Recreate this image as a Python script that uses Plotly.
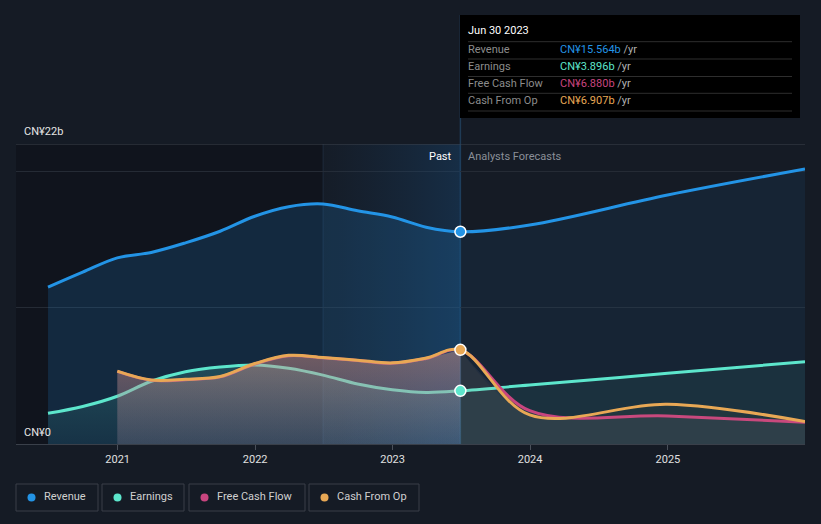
import plotly.graph_objects as go

# ---------------- data (CN¥ billions) ----------------
past_dates = ["2020-06-30", "2020-09-30", "2020-12-31", "2021-03-31", "2021-06-30",
              "2021-09-30", "2021-12-31", "2022-03-31", "2022-06-30", "2022-09-30",
              "2022-12-31", "2023-03-31", "2023-06-30"]
revenue_past = [11.5, 12.6, 13.65, 14.05, 14.75, 15.6, 16.7, 17.4, 17.6, 17.1, 16.65, 15.9, 15.564]
earnings_past = [2.25, 2.75, 3.5, 4.6, 5.3, 5.65, 5.8, 5.55, 5.05, 4.4, 3.98, 3.78, 3.896]

cf_dates = ["2020-12-31", "2021-03-31", "2021-06-30", "2021-09-30", "2021-12-31",
            "2022-03-31", "2022-06-30", "2022-09-30", "2022-12-31", "2023-03-31", "2023-06-30"]
cfo_past = [5.35, 4.7, 4.75, 4.95, 5.9, 6.5, 6.35, 6.15, 5.95, 6.3, 6.907]
fcf_past = [5.32, 4.67, 4.72, 4.92, 5.87, 6.47, 6.32, 6.12, 5.92, 6.27, 6.880]

fc_dates = ["2023-06-30", "2023-12-31", "2024-12-31", "2025-12-31"]
revenue_fc = [15.564, 16.06, 18.26, 20.17]
earnings_fc = [3.896, 4.33, 5.18, 6.04]
fcf_fc = [6.880, 2.44, 2.05, 1.6]
cfo_fc = [6.907, 2.13, 2.91, 1.65]

year_ticks = ["2021-01-01", "2022-01-01", "2023-01-01", "2024-01-01", "2025-01-01"]
year_labels = ["2021", "2022", "2023", "2024", "2025"]

names = ["Revenue", "Earnings", "Free Cash Flow", "Cash From Op"]
colors = ["#2394e6", "#5de6cc", "#c8457f", "#e8a855"]

# ---------------- layout helpers ----------------
W, H = 821, 524
L, R, T, B = 16, 16, 144, 80
PW, PH = W - L - R, H - T - B


def px(x):
    return (x - L) / PW


def py(y):
    return (H - B - y) / PH


BG = "#151b25"
fig = go.Figure()

# past highlight gradient band (Jun 2022 -> Jun 2023)
fig.add_trace(go.Scatter(
    x=["2022-06-30", "2023-06-30"], y=[22, 22], mode="lines", line=dict(width=0),
    fill="tozeroy", fillgradient=dict(type="horizontal",
                                      colorscale=[[0, "rgba(25,70,115,0.03)"], [1, "rgba(25,85,140,0.32)"]]),
    hoverinfo="skip", showlegend=False))


def area(x, y, fillspec):
    kw = dict(x=x, y=y, mode="lines", hoverinfo="skip", showlegend=False, fill="tozeroy")
    if isinstance(fillspec, str):
        kw["fillcolor"] = fillspec
    else:
        kw["fillgradient"] = dict(type="vertical", colorscale=fillspec)
    kw["line"] = dict(width=0, color="rgba(0,0,0,0)", shape="spline")
    fig.add_trace(go.Scatter(**kw))


def line(x, y, color):
    fig.add_trace(go.Scatter(x=x, y=y, mode="lines", line=dict(color=color, width=3, shape="spline"),
                             hoverinfo="skip", showlegend=False))


# Revenue
area(past_dates, revenue_past, "rgba(35,148,230,0.17)")
area(fc_dates, revenue_fc, "rgba(35,148,230,0.08)")
line(past_dates + fc_dates[1:], revenue_past + revenue_fc[1:], colors[0])

# Earnings
area(past_dates, earnings_past, [[0, "rgba(94,230,204,0.05)"], [1, "rgba(94,230,204,0.18)"]])
area(fc_dates, earnings_fc, "rgba(94,230,204,0.07)")
line(past_dates + fc_dates[1:], earnings_past + earnings_fc[1:], colors[1])

# Free cash flow
area(cf_dates, fcf_past, [[0, "rgba(200,69,127,0.05)"], [1, "rgba(200,69,127,0.18)"]])
area(fc_dates, fcf_fc, "rgba(170,170,190,0.09)")
line(cf_dates + fc_dates[1:], fcf_past + fcf_fc[1:], colors[2])

# Cash from operations
area(cf_dates, cfo_past, [[0, "rgba(150,150,165,0.22)"], [1, "rgba(220,170,140,0.38)"]])
area(fc_dates, cfo_fc, "rgba(232,168,85,0.04)")
line(cf_dates + fc_dates[1:], cfo_past + cfo_fc[1:], colors[3])

# markers at the last reported point
last_vals = [revenue_past[-1], earnings_past[-1], fcf_past[-1], cfo_past[-1]]
for i in [0, 1, 3]:
    fig.add_trace(go.Scatter(x=[past_dates[-1]], y=[last_vals[i]], mode="markers",
                             marker=dict(size=11, color=colors[i], line=dict(color="white", width=1.5)),
                             hoverinfo="skip", showlegend=False))

shapes = []
# darker region before Jun 2022
shapes.append(dict(type="rect", xref="x", yref="y", x0="2020-01-01", x1="2022-06-30", y0=0, y1=22,
                   fillcolor="rgba(5,5,10,0.28)", line_width=0, layer="below"))
# top boundary line
shapes.append(dict(type="line", xref="paper", yref="y", x0=0, x1=1, y0=22, y1=22,
                   line=dict(color="#3c424c", width=1)))
# vertical lines
shapes.append(dict(type="line", xref="x", yref="paper", x0="2022-06-30", x1="2022-06-30", y0=0, y1=1,
                   line=dict(color="rgba(60,90,120,0.35)", width=1), layer="below"))
shapes.append(dict(type="line", xref="x", yref="paper", x0="2023-06-30", x1="2023-06-30", y0=0, y1=py(15),
                   line=dict(color="#1f3b55", width=1.5), layer="below"))
# tooltip box
shapes.append(dict(type="rect", xref="paper", yref="paper", x0=px(460), x1=px(800), y0=py(118), y1=py(15),
                   fillcolor="#000000", line_width=0))
for yy in [41.7, 59, 76.5, 93.3, 111]:
    shapes.append(dict(type="line", xref="paper", yref="paper", x0=px(468), x1=px(792), y0=py(yy), y1=py(yy),
                       line=dict(color="#2e2e2e", width=1)))

annotations = []
FONT = "Roboto, 'Open Sans', sans-serif"
annotations.append(dict(xref="paper", yref="paper", x=px(466), y=py(31), text="Jun 30 2023", showarrow=False,
                        xanchor="left", yanchor="middle", font=dict(family=FONT, size=11, color="#ffffff")))
row_y = [49.3, 66, 83.7, 100.7]
for i in range(4):
    annotations.append(dict(xref="paper", yref="paper", x=px(466), y=py(row_y[i]), text=names[i],
                            showarrow=False, xanchor="left", yanchor="middle",
                            font=dict(family=FONT, size=11, color="#8c8c8c")))
    annotations.append(dict(xref="paper", yref="paper", x=px(558), y=py(row_y[i]),
                            text=f"<span style='color:{colors[i]}'>CN¥{last_vals[i]:.3f}b</span> /yr",
                            showarrow=False, xanchor="left", yanchor="middle",
                            font=dict(family=FONT, size=11, color="#b0b0b0")))

annotations.append(dict(xref="paper", yref="paper", x=px(22), y=py(131), text="CN¥22b", showarrow=False,
                        xanchor="left", yanchor="middle", font=dict(family=FONT, size=11, color="#e6e6e6")))
annotations.append(dict(xref="paper", yref="paper", x=px(22), y=py(432), text="CN¥0", showarrow=False,
                        xanchor="left", yanchor="middle", font=dict(family=FONT, size=11, color="#e6e6e6")))
annotations.append(dict(xref="paper", yref="paper", x=px(454), y=py(156), text="Past", showarrow=False,
                        xanchor="right", yanchor="middle", font=dict(family=FONT, size=11, color="#ffffff")))
annotations.append(dict(xref="paper", yref="paper", x=px(466), y=py(156), text="Analysts Forecasts",
                        showarrow=False, xanchor="left", yanchor="middle",
                        font=dict(family=FONT, size=11, color="#8a8f98")))

# custom legend
boxes = [(16, 98), (102, 184), (189, 305), (309, 419)]
for i, (x0, x1) in enumerate(boxes):
    shapes.append(dict(type="rect", xref="paper", yref="paper", x0=px(x0), x1=px(x1), y0=py(511), y1=py(484),
                       line=dict(color="#3a3f49", width=1), fillcolor="rgba(0,0,0,0)"))
    cx = x0 + 15.5
    shapes.append(dict(type="circle", xref="paper", yref="paper", x0=px(cx - 4), x1=px(cx + 4),
                       y0=py(501.5), y1=py(493.5), fillcolor=colors[i], line_width=0))
    annotations.append(dict(xref="paper", yref="paper", x=px(x0 + 26), y=py(496.5), text=names[i],
                            showarrow=False, xanchor="left", yanchor="middle",
                            font=dict(family=FONT, size=11, color="#d0d0d0")))

fig.update_layout(
    width=W, height=H, margin=dict(l=L, r=R, t=T, b=B),
    paper_bgcolor=BG, plot_bgcolor=BG,
    shapes=shapes, annotations=annotations, showlegend=False,
    xaxis=dict(type="date", range=["2020-04-06", "2025-12-31"], tickvals=year_ticks, ticktext=year_labels,
               ticks="outside", ticklen=5, tickcolor="#4a505a", showline=True, linecolor="#3a404a",
               showgrid=False, zeroline=False, tickfont=dict(family=FONT, size=11, color="#e0e0e0"),
               fixedrange=True),
    yaxis=dict(range=[0, 22], tickvals=[10, 20], showticklabels=False, showgrid=True, gridcolor="#252b35",
               zeroline=False, showline=False, fixedrange=True),
)

fig.write_html("out.html", config={"displayModeBar": False},
               post_script="document.body.style.margin='0px';document.body.style.background='#151b25';")
